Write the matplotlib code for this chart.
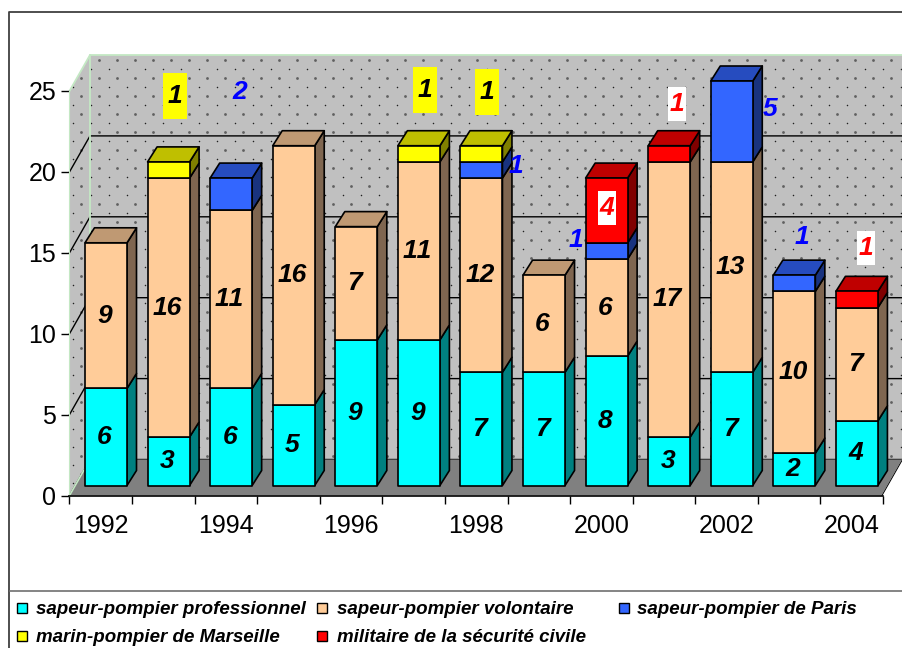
import matplotlib

matplotlib.use("Agg")
import matplotlib.pyplot as plt
import numpy as np
from matplotlib.patches import Polygon, Rectangle

plt.rcParams["font.family"] = ["Liberation Sans", "DejaVu Sans"]
plt.rcParams["text.kerning_factor"] = 6

years = np.arange(1992, 2005)
series_names = [
    "sapeur-pompier professionnel",
    "sapeur-pompier volontaire",
    "sapeur-pompier de Paris",
    "marin-pompier de Marseille",
    "militaire de la sécurité civile",
]
professionnel = [6, 3, 6, 5, 9, 9, 7, 7, 8, 3, 7, 2, 4]
volontaire = [9, 16, 11, 16, 7, 11, 12, 6, 6, 17, 13, 10, 7]
paris = [0, 0, 2, 0, 0, 0, 1, 0, 1, 0, 5, 1, 0]
marseille = [0, 1, 0, 0, 0, 1, 1, 0, 0, 0, 0, 0, 0]
securite_civile = [0, 0, 0, 0, 0, 0, 0, 0, 4, 1, 0, 0, 1]

faces = ["#00FFFF", "#FFCC99", "#3366FF", "#FFFF00", "#FF0000"]
tops = ["#00BFBF", "#BF9973", "#264CBF", "#BFBF00", "#BF0000"]
sides = ["#008080", "#7F6650", "#19337F", "#808000", "#800000"]

# pixel layout of the reference
W, H = 903, 648
X0, X1, Y0, Y25 = 69.5, 883.0, 495.5, 91.0
PX = (X1 - X0) / 13
PY = (Y0 - Y25) / 25


def dx(px):
    return px / PX


def dy(px):
    return px / PY


def to_x(px):
    return (px - X0) / PX


def to_y(py):
    return (Y0 - py) / PY


WALL_DX, WALL_DY = dx(20.5), dy(36)
BAR_X, BAR_Y = dx(15.5), dy(10)
BAR_W = dx(42)
BAR_DX, BAR_DY = dx(9.5), dy(15)

# labels moved off their segment: series, year index, pixel centre
loose_labels = [
    (2, 2, 240, 92), (2, 6, 516, 166), (2, 8, 576, 240), (2, 10, 770, 109), (2, 11, 802, 237),
    (3, 1, 175, 96), (3, 5, 425, 90), (3, 6, 487, 92),
    (4, 9, 677, 104), (4, 12, 866, 248),
]
label_colors = ["black", "black", "#0000FF", "black", "#FF0000"]


def draw_walls(ax):
    back = Polygon(
        [(0, 0), (0, 25), (WALL_DX, 25 + WALL_DY), (13 + WALL_DX, 25 + WALL_DY), (13 + WALL_DX, WALL_DY), (WALL_DX, WALL_DY)],
        closed=True, facecolor="#C0C0C0", edgecolor="none", clip_on=False, zorder=1,
    )
    ax.add_patch(back)

    # dotted texture of the walls
    gx, gy = np.meshgrid(np.arange(9.3, 920, 18), np.arange(6, 500, 18))
    big = ax.scatter(to_x(gx.ravel()), to_y(gy.ravel()), s=4, color="#606060", linewidths=0, zorder=1.1)
    small = ax.scatter(to_x(gx.ravel() + 9.4), to_y(gy.ravel() + 9), s=1.2, color="#202020", linewidths=0, zorder=1.1)
    big.set_clip_path(back)
    small.set_clip_path(back)

    for v in range(0, 25, 5):
        ax.plot([0, WALL_DX, 13 + WALL_DX], [v, v + WALL_DY, v + WALL_DY], color="black", lw=1, clip_on=False, zorder=1.2)
    green = "#C4E8C4"
    ax.plot([0, WALL_DX, 13 + WALL_DX], [25, 25 + WALL_DY, 25 + WALL_DY], color=green, lw=1.3, clip_on=False, zorder=1.2)
    ax.plot([WALL_DX, WALL_DX], [WALL_DY, 25 + WALL_DY], color=green, lw=1.3, clip_on=False, zorder=1.2)

    floor = Polygon(
        [(0, 0), (13, 0), (13 + WALL_DX, WALL_DY), (WALL_DX, WALL_DY)],
        closed=True, facecolor="#808080", edgecolor="none", clip_on=False, zorder=1.3,
    )
    ax.add_patch(floor)
    ax.plot([0, WALL_DX], [0, WALL_DY], color=green, lw=1.2, clip_on=False, zorder=1.4)
    ax.plot([13, 13 + WALL_DX], [0, WALL_DY], color="white", lw=2, clip_on=False, zorder=1.4)
    ax.plot([13 + dx(-1), 13 + WALL_DX + dx(-1)], [0, WALL_DY], color="black", lw=0.7, clip_on=False, zorder=1.4)


def draw_bars(ax, stacks):
    for i in range(len(years)):
        base = BAR_Y
        left = i + BAR_X
        right = left + BAR_W
        last = max(s for s in range(5) if stacks[s][i] > 0)
        for s in range(5):
            value = stacks[s][i]
            if value == 0:
                continue
            top = base + value
            style = dict(edgecolor="black", lw=1.2, joinstyle="round", clip_on=False, zorder=3)
            ax.add_patch(Polygon(
                [(right, base), (right + BAR_DX, base + BAR_DY), (right + BAR_DX, top + BAR_DY), (right, top)],
                closed=True, facecolor=sides[s], **style,
            ))
            if s == last:
                ax.add_patch(Polygon(
                    [(left, top), (right, top), (right + BAR_DX, top + BAR_DY), (left + BAR_DX, top + BAR_DY)],
                    closed=True, facecolor=tops[s], **style,
                ))
            ax.add_patch(Rectangle((left, base), BAR_W, value, facecolor=faces[s], **style))
            base = top


def draw_labels(ax, stacks):
    font = dict(fontsize=19, fontweight="bold", fontstyle="italic", ha="center", va="center", zorder=6)
    for i in range(len(years)):
        cx = i + BAR_X + BAR_W / 2 - dx(1.5)
        pro, vol = stacks[0][i], stacks[1][i]
        ax.text(cx, BAR_Y + pro / 2, str(pro), clip_on=False, **font)
        ax.text(cx, BAR_Y + pro + vol / 2, str(vol), clip_on=False, **font)

    # the 4 of 2000 stays on its segment, on a white patch
    ax.add_patch(Rectangle((to_x(598), to_y(225)), dx(18), dy(34), facecolor="white", clip_on=False, zorder=5))
    ax.text(to_x(606.5), to_y(208), str(stacks[4][8]), color="#FF0000", clip_on=False, **font)

    for s, i, px, py in loose_labels:
        if s == 3:
            ax.add_patch(Rectangle((to_x(px - 12), to_y(py + 23)), dx(24), dy(46), facecolor="#FFFF00", clip_on=False, zorder=5))
        if s == 4:
            ax.add_patch(Rectangle((to_x(px - 9), to_y(py + 17)), dx(18), dy(34), facecolor="white", clip_on=False, zorder=5))
        ax.text(to_x(px), to_y(py), str(stacks[s][i]), color=label_colors[s], clip_on=False, **font)


def draw_legend(fig):
    slots = [(17, 36, 608), (317, 337, 608), (619, 637, 608), (17, 36, 636), (317, 337, 636)]
    for s, (mx, tx, my) in enumerate(slots):
        fig.add_artist(Rectangle(
            (mx / W, 1 - (my + 5) / H), 10 / W, 10 / H, facecolor=faces[s], edgecolor="black", lw=1,
            transform=fig.transFigure,
        ))
        fig.text(tx / W, 1 - (my + 1) / H, series_names[s], fontsize=13.5, fontweight="bold", fontstyle="italic", ha="left", va="center")


def main():
    fig = plt.figure(figsize=(W / 100, H / 100), dpi=100, facecolor="white")

    # outer frame and legend box
    frame = "#404040"
    fig.add_artist(plt.Line2D([9.5 / W, 9.5 / W, 1], [0, 1 - 11.5 / H, 1 - 11.5 / H], color=frame, lw=1.3))
    fig.add_artist(plt.Line2D([10 / W, 1], [1 - 591 / H, 1 - 591 / H], color="#707070", lw=1.2))

    ax = fig.add_axes([X0 / W, 1 - Y0 / H, (X1 - X0) / W, (Y0 - Y25) / H])
    ax.patch.set_visible(False)
    ax.set_xlim(0, 13)
    ax.set_ylim(0, 25)
    for side in ("top", "right"):
        ax.spines[side].set_visible(False)
    ax.spines["left"].set_color("#C4E8C4")
    ax.spines["bottom"].set_linewidth(1.2)

    ax.set_yticks(range(0, 30, 5))
    ax.set_xticks(range(14))
    ax.set_xticklabels([])
    ax.set_xticks(np.arange(0.5, 13, 2), labels=[str(y) for y in years[::2]], minor=True)
    ax.tick_params(axis="x", which="major", length=5.5, width=1)
    ax.tick_params(axis="x", which="minor", length=0, pad=13, labelsize=18)
    ax.tick_params(axis="y", length=5.5, width=1, pad=4, labelsize=18)

    stacks = [professionnel, volontaire, paris, marseille, securite_civile]
    draw_walls(ax)
    draw_bars(ax, stacks)
    draw_labels(ax, stacks)
    draw_legend(fig)

    fig.savefig("out.png", dpi=100)


if __name__ == "__main__":
    main()
